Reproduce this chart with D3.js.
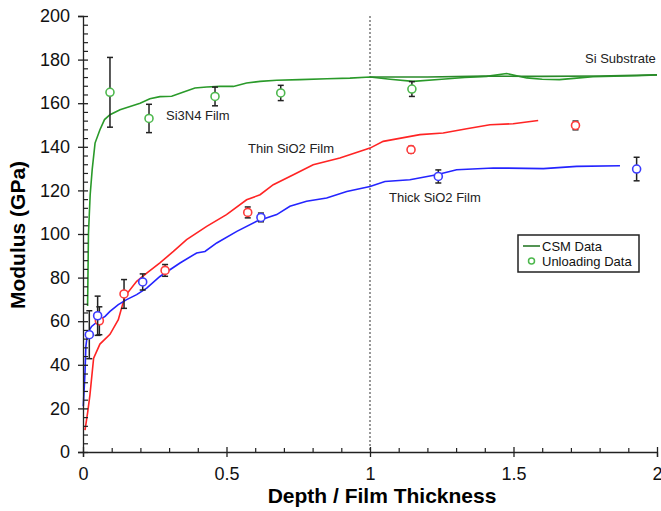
<!DOCTYPE html>
<html>
<head>
<meta charset="utf-8">
<script src="https://cdn.jsdelivr.net/npm/d3@7"></script>
<style>
  body { margin: 0; background: #fff; }
  text { font-family: "Liberation Sans", Arial, sans-serif; }
</style>
</head>
<body>
<div id="chart"></div>
<script>
// CSM curves (depth / film thickness, modulus GPa)
const si3n4Depth = [0.016, 0.019, 0.025, 0.032, 0.042, 0.059, 0.075, 0.094, 0.129, 0.164, 0.199, 0.233, 0.268, 0.309, 0.348, 0.39, 0.431, 0.477, 0.524, 0.57, 0.617, 0.675, 0.756, 0.85, 0.93, 1.0, 1.07, 1.15, 1.25, 1.33, 1.406, 1.476, 1.546, 1.6, 1.66, 1.72, 1.777, 1.85, 1.93, 2.0];
const si3n4Csm = [67, 100, 118, 129.5, 141.7, 147.8, 152.5, 154.7, 157, 158.5, 160, 162, 163, 163.2, 165, 167, 167.4, 167.7, 167.7, 169.3, 170, 170.5, 170.8, 171.2, 171.5, 172, 171, 170, 171, 171.8, 172.3, 173.6, 171.6, 171, 170.8, 171.5, 172.1, 172.4, 172.6, 173];
const substrateDepth = [1.0, 1.2, 1.4, 1.6, 1.8, 2.0];
const substrateCsm = [172, 172, 172.4, 172.3, 172.5, 173];
const thinDepth = [0.007, 0.016, 0.024, 0.037, 0.059, 0.094, 0.123, 0.146, 0.187, 0.222, 0.268, 0.315, 0.361, 0.431, 0.5, 0.57, 0.617, 0.663, 0.733, 0.802, 0.895, 1.0, 1.046, 1.174, 1.255, 1.337, 1.418, 1.499, 1.586];
const thinCsm = [10, 18, 26, 43, 49.5, 54, 60.7, 71.4, 78.3, 82, 86.8, 92, 97.4, 103.5, 108.9, 115.7, 118, 122.6, 127.2, 131.8, 134.9, 139.4, 142.5, 145.6, 146.3, 148.3, 150.1, 150.6, 152.1];
const thickDepth = [0.001, 0.007, 0.01, 0.016, 0.03, 0.059, 0.077, 0.094, 0.123, 0.152, 0.187, 0.222, 0.268, 0.338, 0.396, 0.425, 0.466, 0.536, 0.605, 0.675, 0.721, 0.779, 0.849, 0.919, 1.0, 1.052, 1.139, 1.232, 1.302, 1.43, 1.604, 1.72, 1.871];
const thickCsm = [21, 36.4, 48.5, 54.6, 57.6, 60.7, 62.2, 64.5, 67.6, 69.9, 72.2, 75.2, 80.5, 86.7, 91.3, 92, 95.9, 101.2, 105.8, 108.9, 112.7, 115, 116.5, 119.5, 121.8, 124.1, 124.9, 127.2, 129.5, 130.3, 130, 131, 131.3];

// unloading data with error bars
const si3n4UnloadDepth = [0.094, 0.23, 0.46, 0.689, 1.146];
const si3n4UnloadMod = [165, 153, 163.1, 164.7, 166.5];
const si3n4UnloadErr = [16, 6.5, 4.3, 3.5, 3.4];
const thinUnloadDepth = [0.057, 0.143, 0.286, 0.574, 1.143, 1.716];
const thinUnloadMod = [60.2, 72.5, 83.3, 109.9, 138.7, 149.8];
const thinUnloadErr = [6.4, 6.6, 2.7, 2.5, 1.5, 2];
const thickUnloadDepth = [0.022, 0.051, 0.208, 0.62, 1.238, 1.929];
const thickUnloadMod = [53.8, 62.5, 78, 107.6, 126.4, 129.8];
const thickUnloadErr = [11, 9, 3.7, 2, 3, 5.4];

const xMajor = [0, 0.5, 1, 1.5, 2];
const yMajor = [0, 20, 40, 60, 80, 100, 120, 140, 160, 180, 200];

const W = 661, H = 511;
const svg = d3.select("#chart").append("svg")
  .attr("width", W).attr("height", H);

const x = d3.scaleLinear().domain([0, 2]).range([83, 657]);
const y = d3.scaleLinear().domain([0, 200]).range([452, 16]);

// dotted line at film thickness
svg.append("line")
  .attr("x1", x(1)).attr("x2", x(1))
  .attr("y1", y(200)).attr("y2", y(0))
  .attr("stroke", "#555").attr("stroke-width", 1.2)
  .attr("stroke-dasharray", "2,2");

const series = [
  { xs: si3n4Depth, ys: si3n4Csm, color: "#2a9a2a" },
  { xs: substrateDepth, ys: substrateCsm, color: "#2a8a2a" },
  { xs: thinDepth, ys: thinCsm, color: "#ff2424" },
  { xs: thickDepth, ys: thickCsm, color: "#2424ff" }
];
const line = d3.line().x(d => x(d[0])).y(d => y(d[1]));
series.forEach(s => {
  svg.append("path")
    .datum(d3.zip(s.xs, s.ys))
    .attr("fill", "none")
    .attr("stroke", s.color)
    .attr("stroke-width", 1.6)
    .attr("d", line);
});

const unload = [
  { xs: si3n4UnloadDepth, ys: si3n4UnloadMod, es: si3n4UnloadErr, color: "#4db84d" },
  { xs: thinUnloadDepth, ys: thinUnloadMod, es: thinUnloadErr, color: "#ff3b3b" },
  { xs: thickUnloadDepth, ys: thickUnloadMod, es: thickUnloadErr, color: "#3b3bff" }
];
unload.forEach(s => {
  const pts = s.xs.map((d, i) => ({ x: d, y: s.ys[i], e: s.es[i] }));
  const g = svg.append("g");
  const eb = g.selectAll(".eb").data(pts).enter().append("g").attr("stroke", "#222").attr("stroke-width", 1.5);
  eb.append("line")
    .attr("x1", d => x(d.x)).attr("x2", d => x(d.x))
    .attr("y1", d => y(d.y + d.e)).attr("y2", d => y(d.y - d.e));
  eb.append("line")
    .attr("x1", d => x(d.x) - 3).attr("x2", d => x(d.x) + 3)
    .attr("y1", d => y(d.y + d.e)).attr("y2", d => y(d.y + d.e));
  eb.append("line")
    .attr("x1", d => x(d.x) - 3).attr("x2", d => x(d.x) + 3)
    .attr("y1", d => y(d.y - d.e)).attr("y2", d => y(d.y - d.e));
  g.selectAll("circle").data(pts).enter().append("circle")
    .attr("cx", d => x(d.x)).attr("cy", d => y(d.y))
    .attr("r", 4)
    .attr("fill", "#fff")
    .attr("stroke", s.color)
    .attr("stroke-width", 1.6);
});

// x axis
const xAxis = svg.append("g")
  .attr("transform", "translate(0," + y(0) + ")")
  .call(d3.axisBottom(x).tickValues(xMajor).tickSize(5).tickPadding(10)
    .tickFormat(d3.format("")));
xAxis.select(".domain").attr("stroke", "#222").attr("stroke-width", 1.3);
xAxis.selectAll(".tick line").attr("y1", -5).attr("stroke", "#222").attr("stroke-width", 1.3);
xAxis.selectAll(".tick text").style("font-size", "18px").attr("fill", "#111");
svg.append("g")
  .attr("transform", "translate(0," + y(0) + ")")
  .call(d3.axisBottom(x).tickValues(d3.range(0, 21).map(i => i / 10).filter(v => Math.round(v * 10) % 5 !== 0))
    .tickSize(-4).tickFormat(""))
  .call(g => g.select(".domain").remove())
  .selectAll(".tick line").attr("stroke", "#222").attr("stroke-width", 1.2);

// y axis
const yAxis = svg.append("g")
  .attr("transform", "translate(" + x(0) + ",0)")
  .call(d3.axisLeft(y).tickValues(yMajor).tickSize(5).tickPadding(8));
yAxis.select(".domain").attr("stroke", "#222").attr("stroke-width", 1.3);
yAxis.selectAll(".tick line").attr("x1", 5).attr("stroke", "#222").attr("stroke-width", 1.3);
yAxis.selectAll(".tick text").style("font-size", "18px").attr("fill", "#111");
svg.append("g")
  .attr("transform", "translate(" + x(0) + ",0)")
  .call(d3.axisLeft(y).tickValues(d3.range(0, 201, 4).filter(v => v % 20 !== 0))
    .tickSize(-5).tickFormat(""))
  .call(g => g.select(".domain").remove())
  .selectAll(".tick line").attr("stroke", "#222").attr("stroke-width", 1.2);

// axis titles
svg.append("text")
  .attr("x", 382).attr("y", 503)
  .attr("text-anchor", "middle")
  .style("font-size", "21px").style("font-weight", "bold")
  .text("Depth / Film Thickness");
svg.append("text")
  .attr("transform", "translate(25,235) rotate(-90)")
  .attr("text-anchor", "middle")
  .style("font-size", "21px").style("font-weight", "bold")
  .text("Modulus (GPa)");

// curve labels
const labels = [
  { t: "Si3N4 Film", x: 166, y: 120 },
  { t: "Thin SiO2 Film", x: 248, y: 153 },
  { t: "Thick SiO2 Film", x: 389, y: 202 },
  { t: "Si Substrate", x: 585, y: 63 }
];
svg.selectAll(".lbl").data(labels).enter().append("text")
  .attr("x", d => d.x).attr("y", d => d.y)
  .style("font-size", "13px").attr("fill", "#222")
  .text(d => d.t);

// legend
const lg = svg.append("g");
lg.append("rect")
  .attr("x", 518).attr("y", 235).attr("width", 121).attr("height", 37)
  .attr("fill", "#fff").attr("stroke", "#222").attr("stroke-width", 1.5);
lg.append("line")
  .attr("x1", 523).attr("x2", 540).attr("y1", 246).attr("y2", 246)
  .attr("stroke", "#2a7a2a").attr("stroke-width", 1.6);
lg.append("circle")
  .attr("cx", 531.5).attr("cy", 261).attr("r", 3)
  .attr("fill", "#fff").attr("stroke", "#4db84d").attr("stroke-width", 1.5);
lg.append("text").attr("x", 542).attr("y", 250.5).style("font-size", "13px").attr("fill", "#111").text("CSM Data");
lg.append("text").attr("x", 542).attr("y", 265.5).style("font-size", "13px").attr("fill", "#111").text("Unloading Data");
</script>
</body>
</html>
